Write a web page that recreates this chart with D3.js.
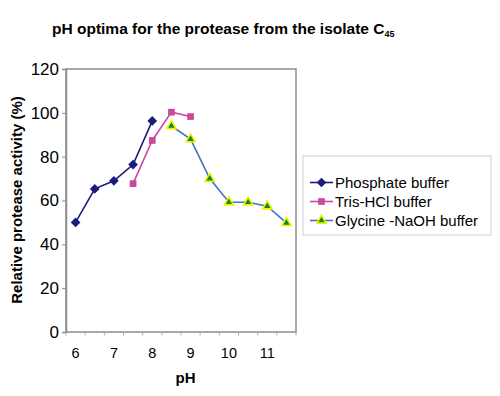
<!DOCTYPE html>
<html><head><meta charset="utf-8">
<script src="https://cdn.jsdelivr.net/npm/d3@7"></script>
<style>body{margin:0;background:#fff}svg{display:block;font-family:"Liberation Sans",Arial,sans-serif}</style>
</head><body><svg id="c" width="500" height="396"></svg>
<script>
const categories = [6, 6.5, 7, 7.5, 8, 8.5, 9, 9.5, 10, 10.5, 11, 11.5];
const tickLabels = [6, 7, 8, 9, 10, 11];
const yTicks = [0, 20, 40, 60, 80, 100, 120];
const phosphatePH = [6, 6.5, 7, 7.5, 8];
const phosphate = [50, 65.3, 69, 76.4, 96.3];
const trisPH = [7.5, 8, 8.5, 9];
const tris = [67.7, 87.4, 100.3, 98.3];
const glycinePH = [8.5, 9, 9.5, 10, 10.5, 11, 11.5];
const glycine = [94, 88, 70, 59.2, 59.2, 57.4, 49.8];
const seriesNames = ["Phosphate buffer", "Tris-HCl buffer", "Glycine -NaOH buffer"];

const svg = d3.select("#c");
const L = 66, R = 296, T = 69, B = 332;
const x = d3.scaleBand().domain(categories).range([L, R]);
const y = d3.scaleLinear().domain([0, 120]).range([B, T]);
const cx = v => x(v) + x.bandwidth() / 2;
const grey = "#8c8c8c";

// title
const t = svg.append("text").attr("x", 52).attr("y", 33.5)
  .attr("font-weight", "bold").attr("font-size", 15.5).attr("fill", "#000")
  .text("pH optima for the protease from the isolate C");
t.append("tspan").attr("font-size", 9).attr("dy", 3.5).text("45");

// plot border
svg.append("rect").attr("x", L).attr("y", T).attr("width", R - L).attr("height", B - T)
  .attr("fill", "none").attr("stroke", grey).attr("stroke-width", 1.5);

// y axis
const yAx = svg.append("g").attr("transform", `translate(${L},0)`)
  .call(d3.axisLeft(y).tickValues(yTicks).tickSize(4).tickPadding(3).tickFormat(d3.format("d")));
yAx.select(".domain").attr("stroke", grey).attr("stroke-width", 1.5);
yAx.selectAll(".tick line").attr("stroke", grey);
yAx.selectAll(".tick text").attr("font-size", 17).attr("fill", "#000")
  .attr("font-family", "Liberation Sans, Arial, sans-serif");

// x axis: ticks at category boundaries
const bounds = categories.map(c => x(c)).concat([R]);
svg.append("g").selectAll("line").data(bounds).join("line")
  .attr("x1", d => d).attr("x2", d => d).attr("y1", B).attr("y2", B + 3.5)
  .attr("stroke", "#b0b0b0");
svg.append("g").selectAll("text").data(tickLabels).join("text")
  .attr("x", d => cx(d)).attr("y", 357.5).attr("text-anchor", "middle")
  .attr("font-size", 14.5).attr("fill", "#000").text(d => d);

// axis titles
svg.append("text").attr("transform", "translate(22,200) rotate(-90)")
  .attr("text-anchor", "middle").attr("font-weight", "bold").attr("font-size", 15)
  .text("Relative protease activity (%)");
svg.append("text").attr("x", 185.5).attr("y", 383).attr("text-anchor", "middle")
  .attr("font-weight", "bold").attr("font-size", 15).text("pH");

const line = d3.line().x(d => cx(d[0])).y(d => y(d[1]));
const zip = (a, b) => a.map((v, i) => [v, b[i]]);

const series = [
  {data: zip(phosphatePH, phosphate), color: "#1c1c7c", shape: d3.symbolDiamond2, size: 60, fill: "#1c1c7c", stroke: "none"},
  {data: zip(trisPH, tris), color: "#c84a9e", shape: d3.symbolSquare, size: 45, fill: "#c84a9e", stroke: "none"},
  {data: zip(glycinePH, glycine), color: "#4a70c0", shape: d3.symbolTriangle, size: 36, fill: "#0a8a2a", stroke: "#f0f000"}
];
series.forEach(s => {
  svg.append("path").datum(s.data).attr("d", line).attr("fill", "none")
    .attr("stroke", s.color).attr("stroke-width", 1.6);
  svg.append("g").selectAll("path").data(s.data).join("path")
    .attr("transform", d => `translate(${cx(d[0])},${y(d[1])})`)
    .attr("d", d3.symbol(s.shape, s.size)).attr("fill", s.fill)
    .attr("stroke", s.stroke).attr("stroke-width", 1.6);
});

// legend
const lg = svg.append("g");
lg.append("rect").attr("x", 303).attr("y", 156).attr("width", 188).attr("height", 79)
  .attr("fill", "#fff").attr("stroke", "#cfcfcf");
series.forEach((s, i) => {
  const yy = 182.5 + i * 19;
  lg.append("line").attr("x1", 310).attr("x2", 333).attr("y1", yy).attr("y2", yy)
    .attr("stroke", s.color).attr("stroke-width", 1.6);
  lg.append("path").attr("transform", `translate(321.5,${yy})`)
    .attr("d", d3.symbol(s.shape, s.size)).attr("fill", s.fill)
    .attr("stroke", s.stroke).attr("stroke-width", 1.6);
  lg.append("text").attr("x", 335).attr("y", yy + 5.3).attr("font-size", 15)
    .attr("fill", "#000").text(seriesNames[i]);
});
</script></body></html>
